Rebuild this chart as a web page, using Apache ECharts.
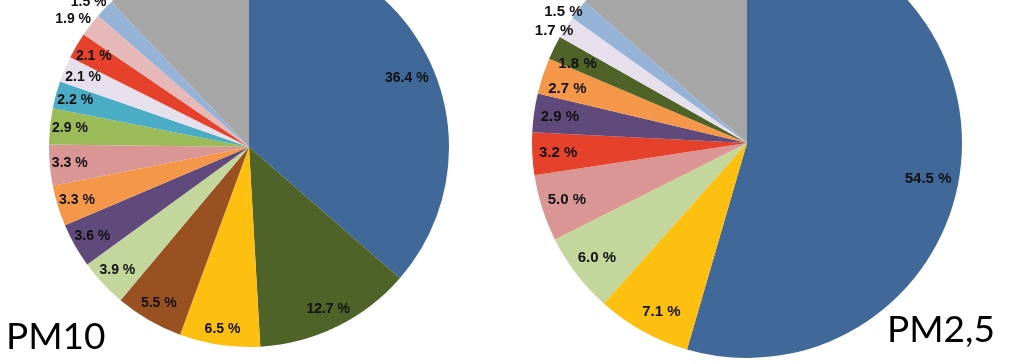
<!DOCTYPE html>
<html>
<head>
<meta charset="utf-8">
<script src="https://cdn.jsdelivr.net/npm/echarts@6/dist/echarts.min.js"></script>
<style>
html,body{margin:0;padding:0;background:#fff;}
#c{width:1023px;height:364px;}
</style>
</head>
<body>
<div id="c"></div>
<script>
// PM10 source shares (%), clockwise from 12 o'clock
const pm10Values = [36.4, 12.7, 6.5, 5.5, 3.9, 3.6, 3.3, 3.3, 2.9, 2.2, 2.1, 2.1, 1.9, 1.5, 12.1];
const pm10Colors = ['#406899', '#4F6228', '#FDBF10', '#9A5122', '#C3D69B', '#5F4A7B', '#F59748', '#D99694', '#9BBB59', '#4BACC6', '#E6E0EC', '#E5412B', '#E6B9B8', '#95B3D7', '#A6A6A6'];
// PM2,5 source shares (%), clockwise from 12 o'clock
const pm25Values = [54.5, 7.1, 6.0, 5.0, 3.2, 2.9, 2.7, 1.8, 1.7, 1.5, 13.6];
const pm25Colors = ['#406899', '#FDBF10', '#C3D69B', '#D99694', '#E5412B', '#5F4A7B', '#F59748', '#4F6228', '#E6E0EC', '#95B3D7', '#A6A6A6'];
const titles = ['PM10', 'PM2,5'];

const chart = echarts.init(document.getElementById('c'), null, {renderer: 'canvas'});

function fmt(p) { return p.value.toFixed(1) + ' %'; }
function fmtDown(p) { return '\n' + fmt(p); }

// nudges: per-index [dx, dy] visual label nudges (style only)
function buildPie(values, colors, center, R, innerLbl, outerLbl, outerIdx, fontSize, nudges) {
  const last = values.length - 1;
  const labelStyle = {color: '#111', fontWeight: 'bold', fontFamily: 'Liberation Sans, Arial, sans-serif', fontSize: fontSize, formatter: fmt};
  const common = {
    type: 'pie', center: center, startAngle: 90, clockwise: true,
    avoidLabelOverlap: false, silent: true, animation: false, labelLine: {show: false},
    labelLayout: {hideOverlap: false}
  };
  const base = Object.assign({}, common, {
    radius: [0, R], label: {show: false}, itemStyle: {borderWidth: 0},
    data: values.map((v, i) => ({value: v, itemStyle: {color: colors[i]}}))
  });
  const lbl = (i, show) => {
    const o = {show: show};
    const n = nudges[i];
    if (n) {
      const dx = n[0], dy = n[1];
      if (dx) o.padding = dx < 0 ? [0, -2 * dx, 0, 0] : [0, 0, 0, 2 * dx];
      if (dy) { o.lineHeight = 2 * dy; o.formatter = fmtDown; }
    }
    return o;
  };
  const inner = Object.assign({}, common, {
    radius: innerLbl,
    label: Object.assign({show: true, position: 'inside'}, labelStyle),
    itemStyle: {color: 'transparent', borderWidth: 0},
    data: values.map((v, i) => ({value: v, label: lbl(i, i !== last && outerIdx.indexOf(i) < 0)}))
  });
  const outer = Object.assign({}, common, {
    radius: outerLbl,
    label: Object.assign({show: true, position: 'inside'}, labelStyle),
    itemStyle: {color: 'transparent', borderWidth: 0},
    data: values.map((v, i) => ({value: v, label: lbl(i, outerIdx.indexOf(i) >= 0)}))
  });
  return [base, inner, outer];
}

const series = [].concat(
  buildPie(pm10Values, pm10Colors, [249, 147], 200, [154, 200], [200, 238], [12, 13], 14,
    {0: [-6, 6], 2: [0, 4], 12: [0, 8], 13: [0, 9]}),
  buildPie(pm25Values, pm25Colors, [747, 143], 215, [157, 215], [215, 237], [8, 9], 15,
    {0: [-6, 9], 1: [6, 4], 6: [0, 5], 7: [0, 5], 8: [0, 11], 9: [-4, 11]})
);

chart.setOption({
  animation: false,
  backgroundColor: '#ffffff',
  series: series,
  graphic: [
    {type: 'text', left: 6, top: 319, style: {text: titles[0], font: '37px Lato, "Open Sans", sans-serif', fill: '#000'}},
    {type: 'text', left: 887, top: 312, style: {text: titles[1], font: '37px Lato, "Open Sans", sans-serif', fill: '#000'}}
  ]
});
</script>
</body>
</html>
